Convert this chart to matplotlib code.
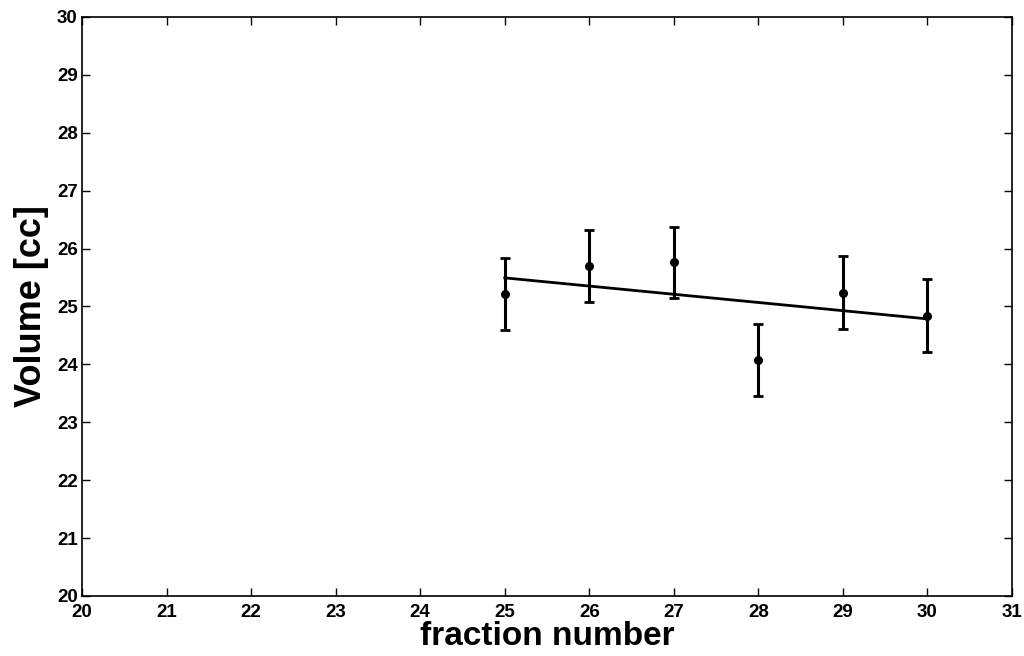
import numpy as np
import matplotlib
matplotlib.use("Agg")
import matplotlib.pyplot as plt

# fraction number vs volume, with error bars
fraction = [25, 26, 27, 28, 29, 30]
volume = [25.22, 25.70, 25.76, 24.08, 25.24, 24.84]
volume_err = [0.62, 0.62, 0.61, 0.62, 0.63, 0.63]

x_ticks = list(range(20, 32))
y_ticks = list(range(20, 31))

plt.rcParams['font.family'] = ['Liberation Sans', 'DejaVu Sans']
plt.rcParams['font.weight'] = 'bold'

fig = plt.figure(figsize=(10.24, 6.56), dpi=100)
ax = fig.add_axes([0.0801, 0.0915, 0.9082, 0.8826])

# linear fit through the points
slope, intercept = np.polyfit(fraction, volume, 1)
fit_x = np.array([fraction[0], fraction[-1]])
ax.plot(fit_x, slope * fit_x + intercept, color='black', linewidth=2)

ax.errorbar(fraction, volume, yerr=volume_err, fmt='o', color='black',
            markersize=5.5, elinewidth=2.2, capsize=3.5, capthick=2)

ax.set_xlim(20, 31)
ax.set_ylim(20, 30)
ax.set_xticks(x_ticks)
ax.set_yticks(y_ticks)
ax.tick_params(direction='in', top=True, right=True, length=6, width=1,
               labelsize=13.5)
ax.tick_params(axis='x', pad=5.5)
ax.tick_params(axis='y', pad=3)
for lbl in ax.get_xticklabels() + ax.get_yticklabels():
    lbl.set_fontweight('bold')
for side in ax.spines.values():
    side.set_linewidth(1.2)

ax.set_xlabel('fraction number', fontsize=24, fontweight='bold', labelpad=0)
ax.set_ylabel('Volume [cc]', fontsize=26, fontweight='bold', labelpad=6)

fig.savefig('out.png', dpi=100)
